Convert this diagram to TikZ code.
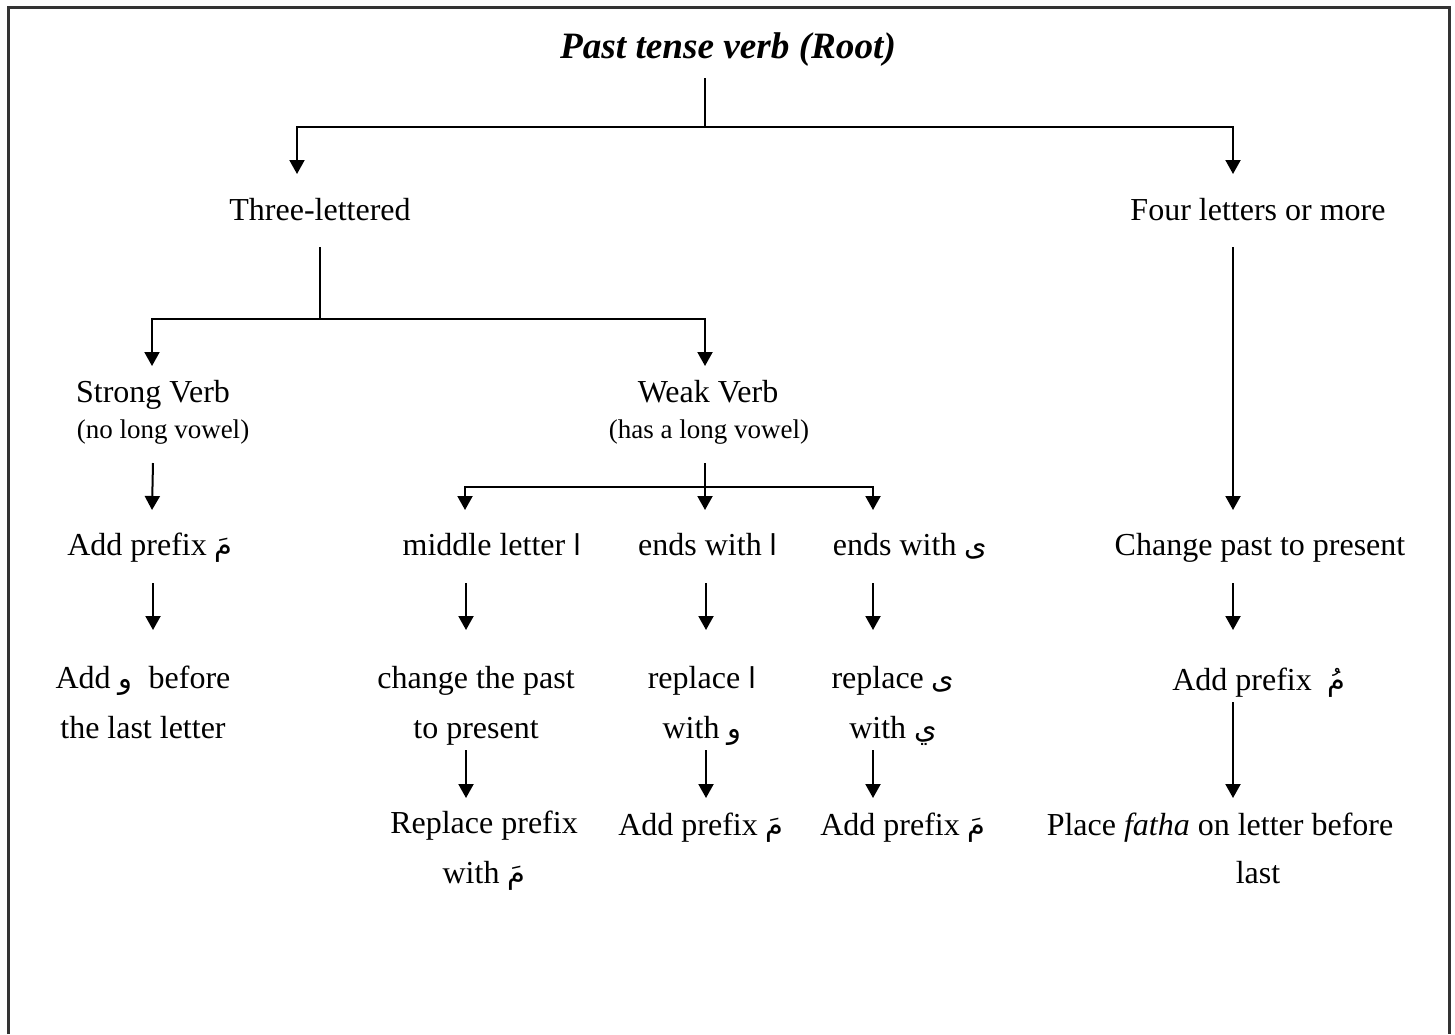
\documentclass[tikz,border=0pt]{standalone}
\usepackage{fontspec}
\setmainfont{Liberation Serif}
\newfontfamily\arabicfont[Script=Arabic,Scale=0.9]{DejaVu Sans}
\TeXXeTstate=1
\usetikzlibrary{arrows.meta}
\newcommand{\ar}[1]{{\arabicfont\beginR #1\endR}}

\begin{document}
\begin{tikzpicture}[x=0.5pt, y=-0.5pt,
    lbl/.style={font=\fontsize{16}{25}\selectfont, inner sep=0pt, anchor=base, align=center},
    note/.style={lbl, font=\fontsize{13.5}{16}\selectfont},
    heading/.style={lbl, font=\fontsize{18.6}{22}\selectfont\bfseries\itshape},
    link/.style={line width=1pt},
    arr/.style={link, -{Triangle[width=7.5pt, length=7pt]}}]
    \useasboundingbox (0,0) rectangle (1455,1034);
    \draw [line width=1.5pt, black!80] (8,1034) -- (8,7) -- (1449,7) -- (1449,1034);

    % levels
    \node [heading] (root) at (728,58) {Past tense verb (Root)};
    \node [lbl] (three) at (320,220) {Three-lettered};
    \node [lbl] (four) at (1258,220) {Four letters or more};
    \node [lbl] (strong) at (153,402) {Strong Verb};
    \node [note] (strong_note) at (163,438) {(no long vowel)};
    \node [lbl] (weak) at (708,402) {Weak Verb};
    \node [note] (weak_note) at (709,438) {(has a long vowel)};

    \node [lbl] (add_m) at (150,555) {Add prefix \ar{مَ}};
    \node [lbl] (middle) at (492,555) {middle letter \ar{ا}};
    \node [lbl] (ends_a) at (708,555) {ends with \ar{ا}};
    \node [lbl] (ends_y) at (910,555) {ends with \ar{ى}};
    \node [lbl] (change) at (1260,555) {Change past to present};

    % two-line nodes sit on their last line
    \node [lbl] (add_w) at (143,738) {Add \ar{و}\ \ before\\the last letter};
    \node [lbl] (change_past) at (476,738) {change the past\\to present};
    \node [lbl] (replace_a) at (702,738) {replace \ar{ا}\\with \ar{و}};
    \node [lbl] (replace_y) at (893,738) {replace \ar{ى}\\with \ar{ي}};
    \node [lbl] (add_u) at (1259,690) {Add prefix\ \ \ar{مُ}};

    \node [lbl] (replace_prefix) at (484,883) {Replace prefix\\with \ar{مَ}};
    \node [lbl] (add_m2) at (701,835) {Add prefix \ar{مَ}};
    \node [lbl] (add_m3) at (903,835) {Add prefix \ar{مَ}};
    \node [lbl] (place) at (1220,835) {Place \textit{fatha} on letter before};
    \node [lbl] (place_last) at (1258,883) {last};

    % forks
    \coordinate (root_fork) at (705,127);
    \coordinate (three_fork) at (320,319);
    \coordinate (weak_fork) at (705,487);

    \draw [link] ([xshift=-11.5pt, yshift=-10pt]root.base) -- (root_fork);
    \draw [arr] (root_fork) -| ([xshift=-11.5pt, yshift=23pt]three.base);
    \draw [arr] (root_fork) -| ([xshift=-12.5pt, yshift=23pt]four.base);

    \draw [link] ([yshift=-13.5pt]three.base) -- (three_fork);
    \draw [arr] (three_fork) -| ([xshift=-0.5pt, yshift=18pt]strong.base);
    \draw [arr] (three_fork) -| ([xshift=-1.5pt, yshift=18pt]weak.base);

    \draw [arr] ([xshift=-12.5pt, yshift=-13.5pt]four.base) -- ([xshift=-13.5pt, yshift=22.5pt]change.base);

    \draw [arr] ([xshift=-2pt, yshift=-12.5pt]weak_note.base) -- ([xshift=-1.5pt, yshift=22.5pt]ends_a.base);
    \draw [arr] (weak_fork) -| ([xshift=-13.5pt, yshift=22.5pt]middle.base);
    \draw [arr] (weak_fork) -| ([xshift=-18.5pt, yshift=22.5pt]ends_y.base);

    % columns
    \draw [arr] ([xshift=-5pt, yshift=-12.5pt]strong_note.base) -- ([xshift=1pt, yshift=22.5pt]add_m.base);
    \draw [arr] ([xshift=1.5pt, yshift=-14pt]add_m.base) -- ([xshift=5pt, yshift=54pt]add_w.base);

    \draw [arr] ([xshift=-13pt, yshift=-14pt]middle.base) -- ([xshift=-5pt, yshift=54pt]change_past.base);
    \draw [arr] ([xshift=-5pt, yshift=-6pt]change_past.base) -- ([xshift=-9pt, yshift=42.5pt]replace_prefix.base);

    \draw [arr] ([xshift=-1pt, yshift=-14pt]ends_a.base) -- ([xshift=2pt, yshift=54pt]replace_a.base);
    \draw [arr] ([xshift=2pt, yshift=-6pt]replace_a.base) -- ([xshift=2.5pt, yshift=18.5pt]add_m2.base);

    \draw [arr] ([xshift=-18.5pt, yshift=-14pt]ends_y.base) -- ([xshift=-10pt, yshift=54pt]replace_y.base);
    \draw [arr] ([xshift=-10pt, yshift=-6pt]replace_y.base) -- ([xshift=-15pt, yshift=18.5pt]add_m3.base);

    \draw [arr] ([xshift=-13.5pt, yshift=-14pt]change.base) -- ([xshift=-13pt, yshift=30pt]add_u.base);
    \draw [arr] ([xshift=-13pt, yshift=-6pt]add_u.base) -- ([xshift=6.5pt, yshift=18.5pt]place.base);
\end{tikzpicture}
\end{document}
